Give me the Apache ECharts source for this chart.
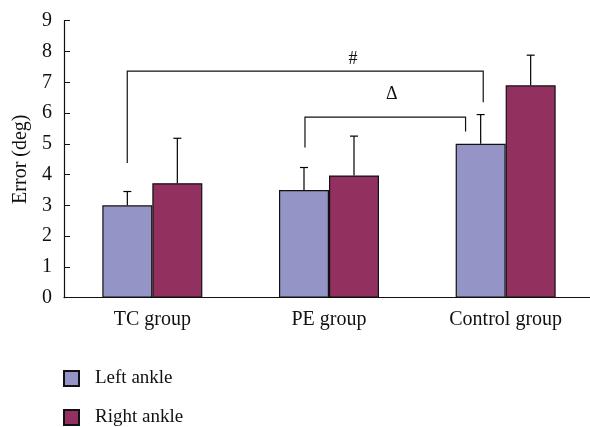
<!DOCTYPE html>
<html>
<head>
<meta charset="utf-8">
<script src="https://cdn.jsdelivr.net/npm/echarts@6/dist/echarts.min.js"></script>
<style>html,body{margin:0;padding:0;background:#fff}#c{width:590px;height:427px}</style>
</head>
<body>
<div id="c"></div>
<script>
var categories = ['TC group', 'PE group', 'Control group'];
var seriesNames = ['Left ankle', 'Right ankle'];
var leftMean = [3.0, 3.5, 5.0];
var leftErrTop = [3.45, 4.23, 5.95];
var rightMean = [3.72, 3.97, 6.9];
var rightErrTop = [5.18, 5.25, 7.88];
var yTicks = [0, 1, 2, 3, 4, 5, 6, 7, 8, 9];
// brackets: [xStart, xEnd, yTop, yLeftEnd, yRightEnd] in category units (0..3)
var brackets = [
  [0.358, 2.373, 7.36, 4.38, 6.35],
  [1.364, 2.273, 5.87, 4.88, 5.40]
];
// bracket labels: [x, y, text]
var bracketLabels = [
  [1.636, 7.75, '#'],
  [1.855, 6.6, '\u0394']
];

var FONT = 'Liberation Serif';
var BAR_W = 50;
var LEFT_COLOR = '#9494c6';
var RIGHT_COLOR = '#92305f';

var chart = echarts.init(document.getElementById('c'));

function errSeries(mean, top, side) {
  var data = mean.map(function (m, i) { return [i, m, top[i]]; });
  return {
    type: 'custom',
    xAxisIndex: 0,
    yAxisIndex: 0,
    z: 5,
    silent: true,
    data: data,
    renderItem: function (params, api) {
      var i = api.value(0);
      var p0 = api.coord([i, api.value(1)]);
      var p1 = api.coord([i, api.value(2)]);
      var x = p0[0] + side * BAR_W / 2;
      var st = { stroke: '#000', lineWidth: 1.2 };
      return {
        type: 'group',
        children: [
          { type: 'line', shape: { x1: x, y1: p0[1], x2: x, y2: p1[1] }, style: st },
          { type: 'line', shape: { x1: x - 4, y1: p1[1], x2: x + 4, y2: p1[1] }, style: st }
        ]
      };
    }
  };
}

function legendFor(name, top) {
  return {
    orient: 'vertical',
    left: 58,
    top: top,
    itemWidth: 15,
    itemHeight: 15,
    icon: 'rect',
    textStyle: { fontFamily: FONT, fontSize: 19, color: '#111', padding: [0, 0, 0, 11] },
    data: [name]
  };
}

var option = {
  backgroundColor: '#fff',
  animation: false,
  textStyle: { fontFamily: FONT },
  grid: { left: 64, top: 20.7, width: 530, height: 277, containLabel: false, outerBoundsMode: 'none' },
  legend: [legendFor(seriesNames[0], 364), legendFor(seriesNames[1], 403)],
  xAxis: [
    {
      type: 'category',
      data: categories,
      axisLine: { lineStyle: { color: '#111', width: 1.2 } },
      axisTick: { inside: true, length: 6, lineStyle: { color: '#111' } },
      axisLabel: { fontFamily: FONT, fontSize: 20, color: '#111', margin: 12 }
    },
    {
      type: 'value',
      min: 0, max: 3,
      show: false,
      position: 'bottom'
    }
  ],
  yAxis: [{
    type: 'value',
    min: 0, max: 9, interval: 1,
    name: 'Error (deg)',
    nameLocation: 'middle',
    nameGap: 33,
    nameTextStyle: { fontFamily: FONT, fontSize: 20, color: '#111' },
    axisLine: { show: true, lineStyle: { color: '#111', width: 1.2 } },
    axisTick: { show: true, inside: true, length: 6, lineStyle: { color: '#111' } },
    axisLabel: { fontFamily: FONT, fontSize: 20, color: '#111', margin: 12,
      formatter: function (v) { return yTicks.indexOf(v) >= 0 ? String(v) : ''; } },
    splitLine: { show: false }
  }],
  series: [
    {
      name: seriesNames[0], type: 'bar', data: leftMean, barWidth: BAR_W, barGap: '0%',
      itemStyle: { color: LEFT_COLOR, borderColor: '#111', borderWidth: 1.2 }
    },
    {
      name: seriesNames[1], type: 'bar', data: rightMean, barWidth: BAR_W, barGap: '0%',
      itemStyle: { color: RIGHT_COLOR, borderColor: '#111', borderWidth: 1.2 }
    },
    errSeries(leftMean, leftErrTop, -1),
    errSeries(rightMean, rightErrTop, 1),
    {
      type: 'custom',
      xAxisIndex: 1,
      yAxisIndex: 0,
      silent: true,
      data: brackets,
      renderItem: function (params, api) {
        var a = api.coord([api.value(0), api.value(2)]);
        var b = api.coord([api.value(1), api.value(2)]);
        var la = api.coord([api.value(0), api.value(3)]);
        var rb = api.coord([api.value(1), api.value(4)]);
        return {
          type: 'polyline',
          shape: { points: [[la[0], la[1]], [a[0], a[1]], [b[0], b[1]], [rb[0], rb[1]]] },
          style: { stroke: '#111', lineWidth: 1.2, fill: null }
        };
      }
    },
    {
      type: 'custom',
      xAxisIndex: 1,
      yAxisIndex: 0,
      silent: true,
      data: bracketLabels,
      renderItem: function (params, api) {
        var p = api.coord([api.value(0), api.value(1)]);
        return {
          type: 'text',
          x: p[0], y: p[1],
          style: { text: bracketLabels[params.dataIndex][2], fontFamily: FONT, fontSize: 18,
            fill: '#111', align: 'center', verticalAlign: 'middle' }
        };
      }
    }
  ]
};
chart.setOption(option);
</script>
</body>
</html>
